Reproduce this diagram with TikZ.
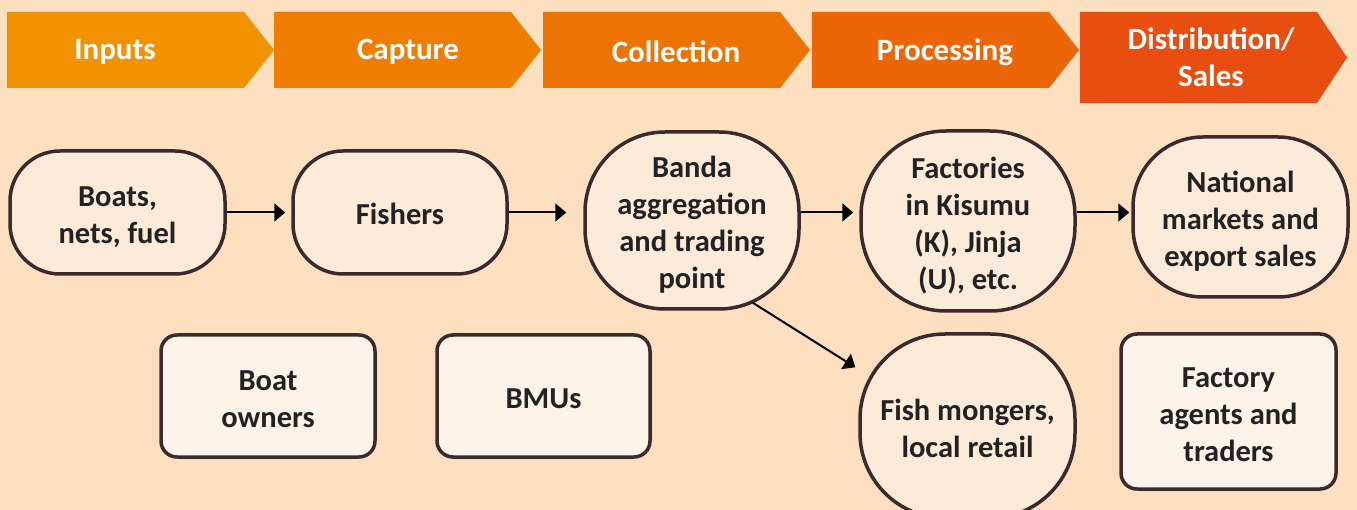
\documentclass[tikz,border=0pt]{standalone}
\usepackage{fontspec}
\setmainfont{Carlito}
\usetikzlibrary{arrows.meta}
\definecolor{bgpeach}{HTML}{FCE0BF}
\definecolor{roundfill}{HTML}{FDEBDA}
\definecolor{boxfill}{HTML}{FEF3E8}
\definecolor{edge}{HTML}{3A2A2D}
\definecolor{ink}{HTML}{222222}
\definecolor{stepA}{HTML}{F39200}
\definecolor{stepB}{HTML}{EF7E00}
\definecolor{stepC}{HTML}{ED7303}
\definecolor{stepD}{HTML}{EC6608}
\definecolor{stepE}{HTML}{E84E0F}
\newcommand{\salestext}{Distribution/\\Sales}
% strut for the first line of a multi-line node
\newcommand{\topline}{\rule{0pt}{32pt}}
\tikzset{
  chainnode/.style={draw=edge, line width=3.5pt, fill=roundfill, rounded corners=#1,
    align=center, text=ink, inner sep=0pt, font=\fontsize{30.5}{37}\selectfont\bfseries,
    execute at begin node={\rule{0pt}{31pt}}, execute at end node={\rule[-6pt]{0pt}{0pt}}},
  actorbox/.style={chainnode=16pt, fill=boxfill},
  flow/.style={-{Triangle[length=11pt,width=18pt]}, line width=2pt, black},
  steplabel/.style={text=white, align=center, font=\fontsize{31}{37}\selectfont\bfseries}
}
\begin{document}
\begin{tikzpicture}[x=1pt,y=-1pt]
	\useasboundingbox (0,0) rectangle (1357,510);
	\clip (0,0) rectangle (1357,510);
	\fill[bgpeach] (0,0) rectangle (1357,510);
%	stage chevrons along the top
	\foreach \x/\tx/\ty/\h/\col/\txt in {7/115/52/88/stepA/Inputs, 274/408/52/88/stepB/Capture,
	    543/676/52/88/stepC/Collection, 812/945/52/88/stepD/Processing, 1080/1211/57.5/103/stepE/\salestext}
	{
	  \fill[\col] (\x,12) -- (\x+237,12) -- (\x+267,{(12+\h)/2}) -- (\x+237,\h) -- (\x,\h) -- cycle;
	  \node[steplabel] (step-\col) at (\tx,\ty) {\txt};
	}
%	main chain
	\node[chainnode=50pt, minimum width=215pt, minimum height=123pt] (boats) at (117.5,212.5) {\topline Boats,\\nets, fuel};
	\node[chainnode=50pt, minimum width=214pt, minimum height=123pt] (fishers) at (400,212.5) {Fishers};
	\node[chainnode=80pt, minimum width=214pt, minimum height=177pt] (banda) at (692,220.5) {\topline Banda\\aggregation\\and trading\\point};
	\node[chainnode=85pt, minimum width=214pt, minimum height=180pt] (factories) at (968,221) {\topline Factories\\in Kisumu\\(K), Jinja\\(U), etc.};
	\node[chainnode=70pt, minimum width=215pt, minimum height=160pt] (national) at (1240.5,217) {\topline National\\markets and\\export sales};
	\node[chainnode=85pt, minimum width=215pt, minimum height=184pt] (mongers) at (967.5,426) {\topline Fish mongers,\\local retail};
%	actors below
	\node[actorbox, minimum width=214pt, minimum height=122pt] (owners) at (268,396) {\topline Boat\\owners};
	\node[actorbox, minimum width=213pt, minimum height=122pt] (bmus) at (543.5,396) {BMUs};
	\node[actorbox, minimum width=215pt, minimum height=155pt] (agents) at (1228.5,411.5) {\topline Factory\\agents and\\traders};
%	connectors
	\draw[flow, shorten >=6pt] (boats.east) -- (fishers.west);
	\draw[flow, shorten >=17pt] (fishers.east) -- (fishers.east -| banda.west);
	\draw[flow, shorten >=6pt] (fishers.east -| banda.east) -- (fishers.east -| factories.west);
	\draw[flow, shorten >=2pt] (fishers.east -| factories.east) -- (fishers.east -| national.west);
	\draw[flow] ([xshift=-48pt,yshift=8pt]banda.south east) -- ([xshift=-3pt,yshift=-35pt]mongers.north west);
\end{tikzpicture}
\end{document}
